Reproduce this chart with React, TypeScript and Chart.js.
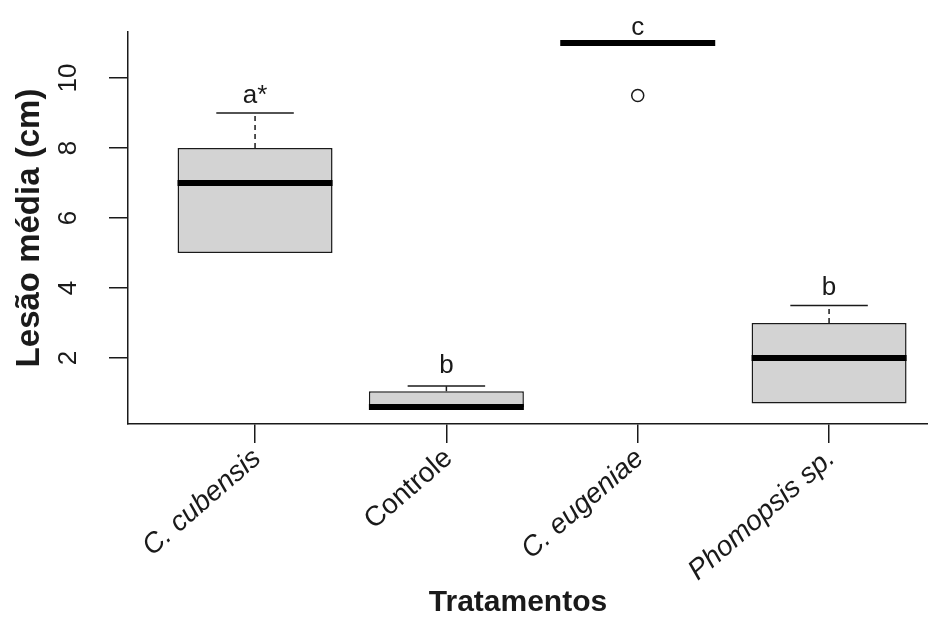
import React, { useEffect, useRef } from "react";
import { Chart, registerables } from "chart.js";

Chart.register(...registerables);

// ---- data ----
const categories = ["C. cubensis", "Controle", "C. eugeniae", "Phomopsis sp."];
const italicLabel = [true, false, true, true];
const whiskerLow = [5, 0.6, 11, 0.7];
const q1 = [5, 0.6, 11, 0.7];
const median = [7, 0.6, 11, 2];
const q3 = [8, 1.05, 11, 3];
const whiskerHigh = [9, 1.2, 11, 3.5];
const outliers: number[][] = [[], [], [9.5], []];
const groupLetters = ["a*", "b", "c", "b"];
const letterY = [9.5, 1.78, 11.43, 4.0];
const yTicks = [2, 4, 6, 8, 10];
const yTitle = "Lesão média (cm)";
const xTitle = "Tratamentos";

const FONT = '"Liberation Sans", Arial, Helvetica, sans-serif';
const INK = "#1a1a1a";

const boxPlugin = {
  id: "boxplotExtras",
  afterDatasetsDraw(chart: any) {
    const { ctx } = chart;
    const x = chart.scales.x;
    const y = chart.scales.y;
    const meta = chart.getDatasetMeta(0);
    ctx.save();
    categories.forEach((_, i) => {
      const bar = meta.data[i];
      const cx = x.getPixelForValue(i + 1);
      const w = bar ? bar.width : 150;
      const left = cx - w / 2;
      const right = cx + w / 2;
      ctx.strokeStyle = INK;
      ctx.lineWidth = 1.5;
      const capHalf = w / 4;
      const drawWhisker = (from: number, to: number) => {
        if (from === to) return;
        ctx.setLineDash([5, 4]);
        ctx.beginPath();
        ctx.moveTo(cx, y.getPixelForValue(from));
        ctx.lineTo(cx, y.getPixelForValue(to));
        ctx.stroke();
        ctx.setLineDash([]);
        ctx.beginPath();
        ctx.moveTo(cx - capHalf, y.getPixelForValue(to));
        ctx.lineTo(cx + capHalf, y.getPixelForValue(to));
        ctx.stroke();
      };
      drawWhisker(q3[i], whiskerHigh[i]);
      drawWhisker(q1[i], whiskerLow[i]);
      ctx.lineWidth = 6;
      ctx.lineCap = "butt";
      ctx.strokeStyle = "#000";
      ctx.beginPath();
      const my = y.getPixelForValue(median[i]);
      ctx.moveTo(left, my);
      ctx.lineTo(right, my);
      ctx.stroke();
    });
    ctx.restore();
  },
  afterDraw(chart: any) {
    const { ctx, chartArea } = chart;
    const x = chart.scales.x;
    const y = chart.scales.y;
    ctx.save();
    ctx.fillStyle = INK;
    ctx.font = `26px ${FONT}`;
    ctx.textAlign = "center";
    ctx.textBaseline = "middle";
    yTicks.forEach((v) => {
      ctx.save();
      ctx.translate(69, y.getPixelForValue(v));
      ctx.rotate(-Math.PI / 2);
      ctx.fillText(String(v), 0, 0);
      ctx.restore();
    });
    ctx.save();
    ctx.font = `bold 33px ${FONT}`;
    ctx.translate(30, (chartArea.top + chartArea.bottom) / 2);
    ctx.rotate(-Math.PI / 2);
    ctx.fillText(yTitle, 0, 0);
    ctx.restore();
    categories.forEach((c, i) => {
      ctx.save();
      ctx.font = `${italicLabel[i] ? "italic " : ""}28px ${FONT}`;
      ctx.textAlign = "right";
      ctx.textBaseline = "top";
      ctx.translate(x.getPixelForValue(i + 1) - 7, chartArea.bottom + 20);
      ctx.rotate((-41 * Math.PI) / 180);
      ctx.fillText(c, 0, 0);
      ctx.restore();
    });
    ctx.font = `bold 30px ${FONT}`;
    ctx.textAlign = "center";
    ctx.textBaseline = "middle";
    ctx.fillText(xTitle, 518, 603);
    ctx.font = `26px ${FONT}`;
    groupLetters.forEach((l, i) => {
      ctx.fillText(l, x.getPixelForValue(i + 1), y.getPixelForValue(letterY[i]));
    });
    ctx.restore();
  },
};

export default function App() {
  const ref = useRef<HTMLCanvasElement | null>(null);
  useEffect(() => {
    if (!ref.current) return;
    const outlierPts: { x: number; y: number }[] = [];
    outliers.forEach((arr, i) => arr.forEach((v) => outlierPts.push({ x: i + 1, y: v })));
    const chart = new Chart(ref.current, {
      type: "bar",
      data: {
        datasets: [
          {
            type: "bar",
            data: categories.map((_, i) => ({ x: i + 1, y: [q1[i], q3[i]] })) as any,
            backgroundColor: "#d3d3d3",
            borderColor: INK,
            borderWidth: 1.5,
            borderSkipped: false,
            categoryPercentage: 0.81,
            barPercentage: 1,
          } as any,
          {
            type: "scatter",
            data: outlierPts as any,
            pointRadius: 6,
            pointBorderWidth: 1.5,
            pointBorderColor: INK,
            pointBackgroundColor: "rgba(255,255,255,0)",
            showLine: false,
          } as any,
        ],
      },
      options: {
        animation: false,
        responsive: false,
        maintainAspectRatio: false,
        devicePixelRatio: 1,
        layout: { autoPadding: false, padding: { top: 32, right: 0, left: 0, bottom: 0 } },
        plugins: { legend: { display: false }, tooltip: { enabled: false } },
        scales: {
          x: {
            type: "linear",
            min: 0.336,
            max: 4.517,
            offset: false,
            afterBuildTicks: (s: any) => {
              s.ticks = categories.map((_, i) => ({ value: i + 1 }));
            },
            afterFit: (s: any) => {
              s.height = 193;
            },
            ticks: { display: false },
            grid: {
              drawOnChartArea: false,
              drawTicks: true,
              tickLength: 19,
              color: INK,
              lineWidth: 1.5,
              offset: false,
            },
            border: { display: true, color: INK, width: 1.5 },
          },
          y: {
            type: "linear",
            min: 0.114,
            max: 11.314,
            afterBuildTicks: (s: any) => {
              s.ticks = yTicks.map((v) => ({ value: v }));
            },
            afterFit: (s: any) => {
              s.width = 128;
            },
            ticks: { display: false },
            grid: {
              drawOnChartArea: false,
              drawTicks: true,
              tickLength: 19,
              color: INK,
              lineWidth: 1.5,
            },
            border: { display: true, color: INK, width: 1.5 },
          },
        },
      } as any,
      plugins: [boxPlugin],
    });
    return () => chart.destroy();
  }, []);
  return (
    <div style={{ position: "absolute", left: 0, top: 0, width: 928, height: 617, overflow: "hidden", background: "#fff" }}>
      <canvas ref={ref} width={928} height={617} style={{ display: "block", width: 928, height: 617 }} />
    </div>
  );
}
